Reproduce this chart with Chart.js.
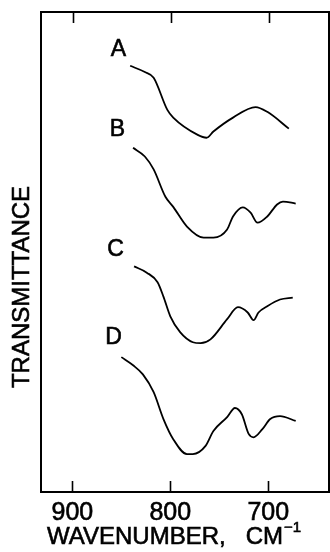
<!DOCTYPE html>
<html>
<head>
<meta charset="utf-8">
<script src="https://cdn.jsdelivr.net/npm/chart.js@4/dist/chart.umd.min.js"></script>
<style>
  html, body { margin: 0; padding: 0; background: #fff; }
  canvas { display: block; }
</style>
</head>
<body>
<canvas id="myChart" width="330" height="552"></canvas>
<script>
// spectra (wavenumber in cm-1, transmittance in arbitrary offset units)
const waveA = [841, 826, 817, 803, 797, 772, 763, 756, 736, 713, 701, 679];
const transA = [88.8, 87.5, 86.3, 79.6, 78.0, 74.4, 73.8, 75.1, 78.0, 80.2, 79.2, 75.7];

const waveB = [838, 826, 817, 805, 797, 783, 766, 756, 742, 736, 726, 718, 711, 701, 691, 685, 672];
const transB = [71.7, 69.9, 67.2, 61.5, 59.4, 55.3, 53.0, 53.0, 54.7, 57.4, 59.3, 58.2, 56.1, 57.4, 59.9, 60.5, 60.1];

const waveC = [837, 824, 813, 807, 800, 790, 777, 769, 759, 742, 731, 721, 715, 710, 701, 688, 675];
const transC = [47.0, 45.7, 43.7, 40.7, 36.6, 33.3, 31.2, 31.0, 31.8, 36.0, 38.5, 37.4, 35.8, 37.4, 38.7, 40.1, 40.5];

const waveD = [850, 838, 828, 817, 807, 797, 783, 777, 764, 756, 742, 734, 727, 720, 715, 706, 698, 688, 672];
const transD = [28.1, 26.4, 24.5, 20.8, 15.2, 11.0, 7.9, 7.9, 9.6, 12.7, 15.6, 17.5, 16.2, 12.1, 11.4, 13.1, 15.2, 15.8, 14.8];

const curveNames = ['A', 'B', 'C', 'D'];
const nameWave = [853, 854, 856, 858];
const nameTrans = [92.1, 75.5, 50.5, 32.2];

const xTicks = [900, 800, 700];
const xTitle = 'WAVENUMBER,   CM';
const xTitleSup = '\u2212' + '1';
const yTitle = 'TRANSMITTANCE';

const FONT = '"Liberation Sans", Arial, sans-serif';

function pairs(xs, ys) {
  return xs.map((x, i) => ({ x: x, y: ys[i] }));
}

function heavyText(ctx, txt, x, y) {
  ctx.fillText(txt, x, y);
  ctx.strokeText(txt, x, y);
}

const frame = {
  id: 'frame',
  afterDraw(chart) {
    const ctx = chart.ctx;
    const a = chart.chartArea;
    const xs = chart.scales.x;
    const ys = chart.scales.y;
    ctx.save();
    ctx.strokeStyle = '#000';
    ctx.lineWidth = 2;
    ctx.strokeRect(a.left, a.top, a.right - a.left, a.bottom - a.top);
    // inward tick marks top and bottom
    ctx.lineWidth = 1.6;
    xTicks.forEach(v => {
      const px = Math.round(xs.getPixelForValue(v)) + 0.5;
      ctx.beginPath();
      ctx.moveTo(px, a.bottom);
      ctx.lineTo(px, a.bottom - 11);
      ctx.moveTo(px + 1, a.top);
      ctx.lineTo(px + 1, a.top + 11);
      ctx.stroke();
    });
    ctx.fillStyle = '#000';
    ctx.lineWidth = 0.6;
    ctx.textAlign = 'center';
    ctx.textBaseline = 'middle';
    // curve letters
    ctx.font = '23px ' + FONT;
    curveNames.forEach((n, i) => {
      heavyText(ctx, n, xs.getPixelForValue(nameWave[i]), ys.getPixelForValue(nameTrans[i]));
    });
    // x title with superscript
    ctx.textAlign = 'left';
    ctx.font = '24px ' + FONT;
    const tx = a.left + 6;
    const ty = a.bottom + 45;
    heavyText(ctx, xTitle, tx, ty);
    const w = ctx.measureText(xTitle).width;
    ctx.font = '15px ' + FONT;
    heavyText(ctx, xTitleSup, tx + w + 1, ty - 9);
    // y title
    ctx.textAlign = 'center';
    ctx.translate(22, 287);
    ctx.rotate(-Math.PI / 2);
    ctx.font = '24px ' + FONT;
    heavyText(ctx, yTitle, 0, 0);
    ctx.restore();
  }
};

const series = [pairs(waveA, transA), pairs(waveB, transB), pairs(waveC, transC), pairs(waveD, transD)];

new Chart(document.getElementById('myChart'), {
  type: 'line',
  data: {
    datasets: series.map((d, i) => ({
      label: curveNames[i],
      data: d,
      borderColor: '#000',
      borderWidth: 1.8,
      pointRadius: 0,
      fill: false,
      cubicInterpolationMode: 'monotone'
    }))
  },
  options: {
    responsive: false,
    animation: false,
    devicePixelRatio: 1,
    layout: { padding: { left: 41, right: 1, top: 12, bottom: 0 } },
    plugins: { legend: { display: false }, tooltip: { enabled: false } },
    scales: {
      x: {
        type: 'linear',
        reverse: true,
        min: 638,
        max: 932,
        afterBuildTicks: s => { s.ticks = xTicks.map(v => ({ value: v })); },
        afterFit: s => { s.height = 60; },
        grid: { display: false, drawTicks: false },
        border: { display: false },
        ticks: {
          color: '#000',
          font: { family: FONT, size: 25 },
          padding: 6,
          maxRotation: 0,
          textStrokeColor: '#000',
          textStrokeWidth: 0.6
        }
      },
      y: {
        display: false,
        min: 0,
        max: 100
      }
    }
  },
  plugins: [frame]
});
</script>
</body>
</html>
